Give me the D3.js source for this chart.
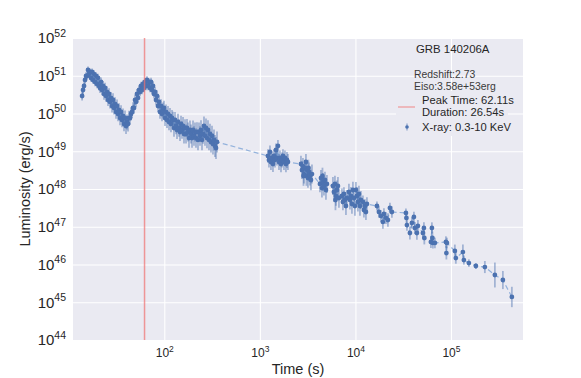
<!DOCTYPE html>
<html><head><meta charset="utf-8">
<script src="https://cdnjs.cloudflare.com/ajax/libs/d3/7.8.5/d3.min.js"></script>
<style>body{margin:0;background:#fff}svg{display:block;font-family:"Liberation Sans",Arial,sans-serif}</style>
</head><body><svg id="c" width="581" height="378"></svg>
<script>
// ---- data ----
const earlyTime = [
 13.8,14.11,14.45,14.8,15.17,15.53,15.91,16.3,16.71,17.1,
 17.53,17.95,18.39,18.85,19.3,19.77,20.25,20.75,21.26,21.77,
 22.3,22.85,23.4,23.97,24.56,25.16,25.77,26.4,27.04,27.7,
 28.38,29.07,29.78,30.5,31.25,32.0,32.79,33.6,34.41,35.25,
 36.1,37.0,37.89,38.8,39.76,40.7,41.72,42.7,43.78,44.85,
 45.94,47.1,48.21,49.4,50.58,51.8,53.08,54.4,55.7,57.05,
 58.45,59.9,61.34,62.8,64.36,65.9,67.54,69.2,70.87,72.6,
 74.37,76.2,78.04,79.9,81.89,83.9,85.94,88.0,90.17,92.4,
 94.62,96.9,99.29,101.7,104.2,106.7,109.3,112.0,114.7,117.5,
 120.4,123.3,126.3,129.4,132.6,135.8,139.1,142.5,146.0,149.6,
 153.2,157.0,160.7,164.7,168.7,172.8,177.0,181.3,185.7,190.3,
 194.9,199.7,204.5,209.5,214.6,219.8,225.2,230.7,236.3,242.1,
 247.9,254.0,260.2,266.5,273.0,279.7,286.5,293.5,300.6,308.0,
 315.5,323.2,331.1,339.2,347.4,356
];
const earlyLum = [
 2.91e50,4.19e50,5.35e50,7.71e50,9.84e50,9.84e50,1.42e51,1.11e51,1.26e51,8.71e50,
 1.26e51,7.71e50,1.11e51,6.83e50,9.84e50,6.04e50,8.71e50,5.35e50,4.73e50,6.83e50,
 4.19e50,5.35e50,3.29e50,4.73e50,2.91e50,3.71e50,2.28e50,3.29e50,2.02e50,2.58e50,
 1.58e50,2.28e50,1.40e50,1.79e50,1.10e50,1.58e50,9.70e49,1.24e50,7.60e49,1.10e50,
 6.73e49,8.59e49,5.27e49,7.60e49,4.67e49,5.96e49,5.27e49,7.60e49,7.60e49,9.70e49,
 1.10e50,1.40e50,1.40e50,2.28e50,2.02e50,3.29e50,2.58e50,4.19e50,3.71e50,5.35e50,
 4.19e50,6.04e50,4.73e50,6.83e50,5.35e50,7.71e50,5.35e50,6.83e50,4.73e50,6.83e50,
 4.19e50,5.35e50,3.29e50,3.71e50,2.28e50,2.91e50,1.58e50,2.02e50,1.10e50,1.58e50,
 9.70e49,1.24e50,1.40e50,7.60e49,1.10e50,6.73e49,9.70e49,5.96e49,8.59e49,5.27e49,
 7.60e49,6.73e49,4.13e49,6.73e49,4.67e49,3.66e49,5.96e49,4.13e49,3.24e49,5.27e49,
 3.66e49,4.67e49,2.86e49,4.13e49,2.86e49,4.13e49,3.24e49,2.24e49,3.66e49,2.86e49,
 2.24e49,3.66e49,2.54e49,3.24e49,2.24e49,3.24e49,1.99e49,3.24e49,2.54e49,3.66e49,
 1.99e49,2.86e49,4.67e49,2.54e49,4.13e49,2.24e49,3.66e49,1.99e49,2.86e49,1.76e49,
 2.54e49,1.56e49,1.99e49,1.38e49,1.22e49,1.76e49
];
const earlyErr = [ // dex
 0.12,0.11,0.10,0.10,0.10,0.09,0.09,0.10,0.09,0.10,
 0.09,0.10,0.10,0.11,0.10,0.11,0.11,0.12,0.13,0.12,
 0.14,0.13,0.15,0.14,0.15,0.15,0.16,0.15,0.17,0.16,
 0.17,0.18,0.17,0.18,0.18,0.17,0.19,0.18,0.19,0.18,
 0.19,0.20,0.19,0.20,0.21,0.20,0.20,0.19,0.18,0.17,
 0.16,0.15,0.15,0.14,0.13,0.13,0.12,0.12,0.11,0.11,
 0.11,0.10,0.11,0.10,0.11,0.10,0.11,0.10,0.11,0.11,
 0.11,0.12,0.12,0.13,0.14,0.15,0.16,0.17,0.18,0.18,
 0.19,0.20,0.19,0.21,0.20,0.21,0.21,0.22,0.21,0.22,
 0.21,0.22,0.23,0.21,0.22,0.24,0.22,0.23,0.24,0.22,
 0.23,0.24,0.25,0.23,0.25,0.24,0.25,0.26,0.25,0.25,
 0.26,0.25,0.26,0.25,0.26,0.26,0.27,0.25,0.26,0.26,
 0.27,0.26,0.25,0.26,0.25,0.27,0.26,0.27,0.27,0.28,
 0.27,0.28,0.28,0.29,0.29,0.28
];
const lateTime = [
 1215,1245,1275,1306,1338,1371,1404,1439,1474,1510,1546,1585,1623,1663,1703,1745,1787,1830,1875,1921,1967,
 2691,2757,2824,2860,2893,2963,3036,3070,3110,3185,3220,3263,3343,3424,3508,
 4254,4357,4463,4520,4571,4683,4797,4914,5033,
 5816,5959,6103,6180,6251,6404,6561,6720,
 7226,7400,7582,7767,7956,8150,
 8551,8761,8973,9193,9415,9646,9880,
 10120,10368,10620,10880,11150,11417,
 11980,12270,12572,12880,13193,
 16790,17620,18480,19390,19870,20850,21870,22960,24090,
 33760,34170,34580,37170,39000,40920,41920,43990,45060,
 50820,52070,52600,
 61640,63130,63900,64680,67860,
 88460,89500,90610,109800,112400,133200,136400,153900,182200,226200,287900,349100,433600
];
const lateLum = [
 7.48e48,5.86e48,9.55e48,5.19e48,6.62e48,4.59e48,7.48e48,5.86e48,1.08e49,6.62e48,1.38e49,5.19e48,6.62e48,4.59e48,5.86e48,7.48e48,5.19e48,6.62e48,4.59e48,5.86e48,5.19e48,
 4.59e48,3.18e48,4.06e48,2.21e48,2.49e48,3.60e48,5.19e48,2.21e48,3.18e48,1.95e48,3.60e48,2.82e48,2.21e48,1.73e48,2.49e48,
 1.36e48,1.95e48,1.06e48,2.21e48,1.53e48,1.20e48,1.73e48,9.41e47,1.36e48,
 1.20e48,8.33e47,1.36e48,5.11e47,6.52e47,9.41e47,1.20e48,5.78e47,
 6.52e47,4.53e47,7.37e47,5.11e47,3.55e47,5.78e47,
 8.33e47,5.11e47,6.52e47,4.01e47,9.41e47,5.78e47,3.55e47,
 9.41e47,6.52e47,4.53e47,7.37e47,3.55e47,5.11e47,
 4.53e47,2.78e47,3.55e47,2.46e47,4.01e47,
 3.55e47,2.46e47,1.93e47,1.34e47,2.18e47,1.71e47,1.51e47,3.14e47,2.46e47,
 2.32e47,1.71e47,1.11e47,6.84e46,1.26e47,1.81e47,9.27e46,6.84e46,1.05e47,
 6.84e46,9.27e46,5.04e46,
 3.95e46,9.27e46,5.04e46,3.72e46,3.72e46,
 3.95e46,2.01e46,3.72e46,2.28e46,1.48e46,2.14e46,1.31e46,1.09e46,9.12e45,8.57e45,5.27e45,3.88e45,1.38e45
];
const lateErr = [ // dex
 0.18,0.20,0.17,0.21,0.18,0.21,0.18,0.20,0.17,0.20,0.16,0.21,0.20,0.22,0.20,0.18,0.21,0.20,0.22,0.21,0.21,
 0.22,0.24,0.21,0.26,0.25,0.22,0.21,0.26,0.24,0.26,0.22,0.25,0.25,0.27,0.25,
 0.22,0.21,0.25,0.22,0.24,0.25,0.22,0.26,0.24,
 0.24,0.26,0.22,0.27,0.26,0.25,0.24,0.26,
 0.20,0.22,0.18,0.21,0.24,0.21,
 0.22,0.25,0.24,0.26,0.22,0.25,0.26,
 0.21,0.24,0.25,0.22,0.26,0.24,
 0.17,0.20,0.18,0.21,0.18,
 0.12,0.15,0.16,0.18,0.15,0.16,0.18,0.14,0.15,
 0.12,0.13,0.15,0.17,0.15,0.14,0.16,0.18,0.16,
 0.14,0.15,0.17,
 0.16,0.15,0.17,0.15,0.14,
 0.15,0.17,0.14,0.17,0.15,0.20,0.12,0.10,0.08,0.16,0.33,0.24,0.27
];
const xTickValues = [1e2, 1e3, 1e4, 1e5];
const yTickValues = [1e44, 1e45, 1e46, 1e47, 1e48, 1e49, 1e50, 1e51, 1e52];
const xDomain = [11.08, 5.67e5];
const yDomain = [1e44, 1e52];
const peakTime = 62.11;
const title = "GRB 140206A";
const infoLines = ["Redshift:2.73", "Eiso:3.58e+53erg"];
const legendPeak = ["Peak Time: 62.11s", "Duration: 26.54s"];
const legendData = "X-ray: 0.3-10 KeV";

// ---- drawing ----
const W = 581, H = 378;
const m = {l: 73, t: 38, r: 523, b: 340};
const svg = d3.select('#c');
svg.append('rect').attr('width', W).attr('height', H).attr('fill', '#fff');
const x = d3.scaleLog().domain(xDomain).range([m.l, m.r]);
const y = d3.scaleLog().domain(yDomain).range([m.b, m.t]);
const blue = '#4c72b0';

svg.append('rect').attr('x', m.l).attr('y', m.t).attr('width', m.r - m.l).attr('height', m.b - m.t).attr('fill', '#eaeaf2');

// grid
svg.append('g').attr('transform', `translate(0,${m.b})`)
  .call(d3.axisBottom(x).tickValues(xTickValues).tickSize(-(m.b - m.t)).tickFormat(''))
  .call(g => { g.select('.domain').remove(); g.selectAll('line').attr('stroke', '#fff').attr('stroke-width', 1.1); });
svg.append('g').attr('transform', `translate(${m.l},0)`)
  .call(d3.axisLeft(y).tickValues(yTickValues).tickSize(-(m.r - m.l)).tickFormat(''))
  .call(g => { g.select('.domain').remove(); g.selectAll('line').attr('stroke', '#fff').attr('stroke-width', 1.1); });

function supLabel(sel, supSize, dy) {
  sel.each(function(d) {
    const t = d3.select(this);
    const e = Math.round(Math.log10(d));
    t.text(null);
    t.append('tspan').text('10');
    t.append('tspan').attr('dy', dy).attr('font-size', supSize).text(e);
  });
}
// axes labels
svg.append('g').attr('transform', `translate(0,${m.b})`)
  .call(d3.axisBottom(x).tickValues(xTickValues).tickSize(0).tickPadding(8.5))
  .call(g => {
    g.select('.domain').remove();
    g.selectAll('text').attr('font-size', 12).attr('fill', '#262626')
      .attr('font-family', '"Liberation Sans",Arial,sans-serif').call(supLabel, 8.5, -5);
  });
svg.append('g').attr('transform', `translate(${m.l},0)`)
  .call(d3.axisLeft(y).tickValues(yTickValues).tickSize(0).tickPadding(7))
  .call(g => {
    g.select('.domain').remove();
    g.selectAll('text').attr('font-size', 15).attr('fill', '#262626')
      .attr('font-family', '"Liberation Sans",Arial,sans-serif').call(supLabel, 10.5, -6.5);
  });

svg.append('text').attr('x', (m.l + m.r) / 2).attr('y', 374).attr('text-anchor', 'middle')
  .attr('font-size', 14.5).attr('fill', '#262626').text('Time (s)');
svg.append('text').attr('transform', `translate(30,${(m.t + m.b) / 2}) rotate(-90)`).attr('text-anchor', 'middle')
  .attr('font-size', 14.5).attr('fill', '#262626').text('Luminosity (erg/s)');

// data
const n1 = Math.min(earlyTime.length, earlyLum.length, earlyErr.length);
const n2 = Math.min(lateTime.length, lateLum.length, lateErr.length);
const pts = [];
for (let i = 0; i < n1; i++) pts.push({t: earlyTime[i], L: earlyLum[i], e: earlyErr[i]});
for (let i = 0; i < n2; i++) pts.push({t: lateTime[i], L: lateLum[i], e: lateErr[i]});

const plot = svg.append('g');
plot.append('path').datum(pts)
  .attr('d', d3.line().x(d => x(d.t)).y(d => y(d.L)))
  .attr('fill', 'none').attr('stroke', '#93b2dc').attr('stroke-width', 1.2).attr('stroke-dasharray', '5,3');
plot.selectAll('line.eb').data(pts).join('line').attr('class', 'eb')
  .attr('x1', d => x(d.t)).attr('x2', d => x(d.t))
  .attr('y1', d => y(d.L * Math.pow(10, d.e))).attr('y2', d => y(d.L / Math.pow(10, d.e)))
  .attr('stroke', blue).attr('stroke-opacity', 0.45).attr('stroke-width', 1.8);
plot.selectAll('circle').data(pts).join('circle')
  .attr('cx', d => x(d.t)).attr('cy', d => y(d.L)).attr('r', 2.4).attr('fill', blue);

// peak line
svg.append('line').attr('x1', x(peakTime)).attr('x2', x(peakTime)).attr('y1', m.t).attr('y2', m.b)
  .attr('stroke', '#f07070').attr('stroke-opacity', 0.7).attr('stroke-width', 1.5);

// annotations / legend
svg.append('text').attr('x', 416).attr('y', 53).attr('font-size', 11.4).attr('fill', '#262626').text(title);
svg.append('rect').attr('x', 396).attr('y', 91).attr('width', 112).attr('height', 45).attr('fill', '#eaeaf2');
infoLines.forEach((s, i) => svg.append('text').attr('x', 414).attr('y', 78 + i * 11.5)
  .attr('font-size', 10.4).attr('fill', '#3a3a3a').text(s));
svg.append('line').attr('x1', 398).attr('x2', 415).attr('y1', 107).attr('y2', 107)
  .attr('stroke', '#f07070').attr('stroke-opacity', 0.7).attr('stroke-width', 1.2);
legendPeak.forEach((s, i) => svg.append('text').attr('x', 422).attr('y', 104 + i * 11.5)
  .attr('font-size', 11.2).attr('fill', '#262626').text(s));
svg.append('line').attr('x1', 407).attr('x2', 407).attr('y1', 123.5).attr('y2', 130.5)
  .attr('stroke', blue).attr('stroke-opacity', 0.45).attr('stroke-width', 1.6);
svg.append('circle').attr('cx', 407).attr('cy', 127).attr('r', 1.8).attr('fill', blue);
svg.append('text').attr('x', 422).attr('y', 130.5).attr('font-size', 11.2).attr('fill', '#262626').text(legendData);
</script>
</body></html>
